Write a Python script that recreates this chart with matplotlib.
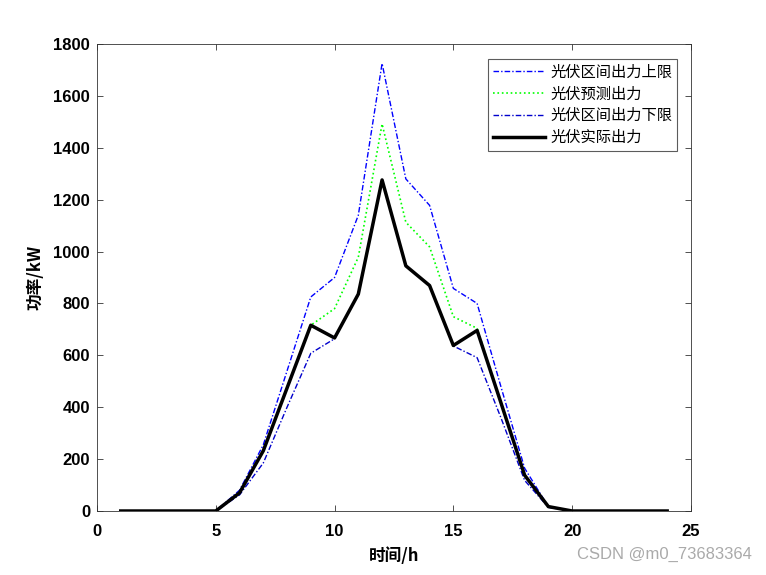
import matplotlib
matplotlib.use("Agg")
import matplotlib.pyplot as plt
import numpy as np

hours = list(range(1, 25))
upper = [0, 0, 0, 0, 0, 80, 255, 540, 825, 900, 1140, 1725, 1280, 1178, 858, 800, 480, 165, 16, 0, 0, 0, 0, 0]
forecast = [0, 0, 0, 0, 0, 72, 235, 476, 716, 780, 978, 1492, 1113, 1018, 749, 704, 420, 140, 16, 0, 0, 0, 0, 0]
lower = [0, 0, 0, 0, 0, 62, 185, 400, 608, 664, 836, 1276, 945, 869, 636, 591, 360, 118, 14, 0, 0, 0, 0, 0]
actual = [0, 0, 0, 0, 0, 70, 232, 474, 716, 667, 836, 1276, 945, 869, 638, 696, 418, 138, 17, 0, 0, 0, 0, 0]

legend_labels = ["光伏区间出力上限", "光伏预测出力", "光伏区间出力下限", "光伏实际出力"]
xticks = [0, 5, 10, 15, 20, 25]
yticks = list(range(0, 1801, 200))

cjk = ['Noto Sans CJK SC', 'DejaVu Sans']
plt.rcParams['font.family'] = ['Liberation Sans', 'Noto Sans CJK SC']

fig = plt.figure(figsize=(7.66, 5.75), dpi=100)
ax = fig.add_axes([0.1266, 0.1113, 0.902 - 0.1266, 0.9235 - 0.1113])

ax.plot(hours, upper, color='#0000FF', linestyle='-.', linewidth=1.0, dashes=(4, 1.5, 1, 1.5), label=legend_labels[0])
ax.plot(hours, forecast, color='#00FF00', linestyle=':', linewidth=1.2, label=legend_labels[1])
ax.plot(hours, lower, color='#0000CC', linestyle='-.', linewidth=1.0, dashes=(4, 1.5, 1, 1.5), label=legend_labels[2])
ax.plot(hours, actual, color='black', linestyle='-', linewidth=2.5, label=legend_labels[3])

ax.set_xlim(0, 25)
ax.set_ylim(0, 1800)
ax.set_xticks(xticks)
ax.set_yticks(yticks)
ax.tick_params(direction='in', top=True, right=True, length=4, width=0.6, colors='#333333', labelcolor='black')
ax.tick_params(axis='x', pad=9)
ax.tick_params(axis='y', pad=5)
for lbl in ax.get_xticklabels() + ax.get_yticklabels():
    lbl.set_fontweight('bold')
    lbl.set_fontsize(12)
    lbl.set_family(['Liberation Sans'])
for s in ax.spines.values():
    s.set_linewidth(0.6)
    s.set_color('#333333')

ax.set_xlabel("时间/h", fontsize=12, fontweight='bold', family=cjk, labelpad=6)
ax.set_ylabel("功率/kW", fontsize=12, fontweight='bold', family=cjk, labelpad=6)

leg = ax.legend(loc='upper right', bbox_to_anchor=(0.976, 0.968), prop={'family': cjk, 'size': 11},
                frameon=True, fancybox=False, edgecolor='#333333', handlelength=3.4,
                handletextpad=0.35, labelspacing=0.32, borderpad=0.3, borderaxespad=0.0)
leg.get_frame().set_linewidth(0.8)

fig.text(0.982, 0.022, "CSDN @m0_73683364", ha='right', va='bottom', fontsize=12, color='#AAAAAA', family=['Liberation Sans'])

fig.savefig("out.png", dpi=100, facecolor='white')
